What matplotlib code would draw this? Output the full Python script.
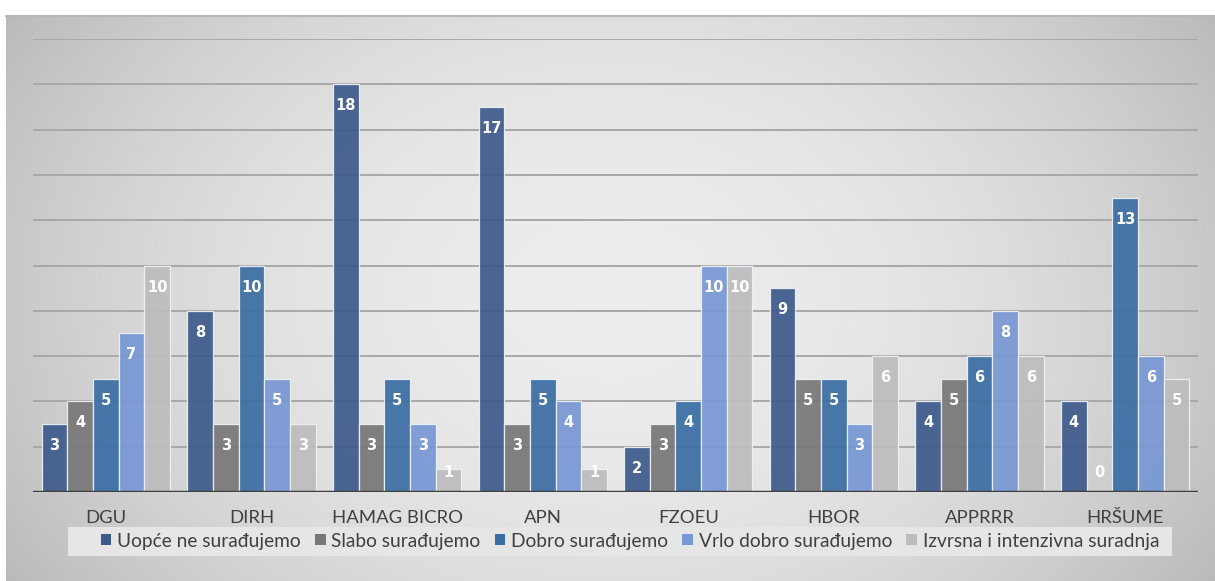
import numpy as np
import matplotlib
matplotlib.use("Agg")
import matplotlib.pyplot as plt
from matplotlib.patches import Rectangle

categories = ["DGU", "DIRH", "HAMAG BICRO", "APN", "FZOEU", "HBOR", "APPRRR", "HRŠUME"]
series_names = ["Uopće ne surađujemo", "Slabo surađujemo", "Dobro surađujemo",
                "Vrlo dobro surađujemo", "Izvrsna i intenzivna suradnja"]
uopce = [3, 8, 18, 17, 2, 9, 4, 4]
slabo = [4, 3, 3, 3, 3, 5, 5, 0]
dobro = [5, 10, 5, 5, 4, 5, 6, 13]
vrlo_dobro = [7, 5, 3, 4, 10, 3, 8, 6]
izvrsna = [10, 3, 1, 1, 10, 6, 6, 5]
series_values = [uopce, slabo, dobro, vrlo_dobro, izvrsna]
colors = ["#3f5b8c", "#787878", "#3b6ea3", "#7898d4", "#bdbdbd"]

W, H = 1215, 581
fig = plt.figure(figsize=(W / 100, H / 100), dpi=100)

# background gradient for chart area
bg = fig.add_axes([0, 0, 1, 1], zorder=-10)
bg.set_xlim(0, W)
bg.set_ylim(H, 0)
bg.axis("off")
x0, x1, y0, y1 = 6, 1215, 15, 581
nx, ny = 400, 200
xx, yy = np.meshgrid(np.linspace(-1, 1, nx), np.linspace(-1, 1, ny))
r2 = (xx ** 2) * 0.9 + (yy ** 2) * 0.35
val = 0.93 - 0.16 * r2
val = np.clip(val, 0, 1)
img = np.dstack([val, val, val])
bg.imshow(img, extent=(x0, x1, y1, y0), aspect="auto", interpolation="bilinear")
bg.plot([x0, x1], [y0 + 0.5, y0 + 0.5], color="#b8b8b8", lw=1.5)
# legend box
bg.add_patch(Rectangle((68, 527), 1104, 29, facecolor="#e6e6e6", edgecolor="none"))

ax = fig.add_axes([33 / W, 1 - 492 / H, (1198 - 33) / W, (492 - 39) / H])
ax.patch.set_alpha(0)
ax.set_ylim(0, 20)
ax.set_xlim(-0.5, len(categories) - 0.5)
for v in range(2, 21, 2):
    ax.axhline(v, color="#a8a8a8", lw=1.4, zorder=1)

x = np.arange(len(categories))
slot = 0.176
for i, (vals, col) in enumerate(zip(series_values, colors)):
    pos = x + (i - 2) * slot
    ax.bar(pos, vals, width=slot, color=col, edgecolor="#eef2f8", linewidth=0.9,
           alpha=0.93, zorder=2)
    for px, v in zip(pos, vals):
        ly = max(v - 0.95, 0.88)
        ax.text(px, ly, str(v), ha="center", va="center", color="white",
                fontsize=10.5, fontweight="bold", family="DejaVu Sans", zorder=4)

ax.axhline(0, color="#404040", lw=2.5, zorder=3)
for s in ax.spines.values():
    s.set_visible(False)
ax.set_yticks([])
ax.set_xticks(x)
ax.set_xticklabels(categories, fontsize=13.3, color="#404040", family="Lato")
ax.tick_params(axis="x", length=0, pad=13)

handles = [Rectangle((0, 0), 1, 1, facecolor=c) for c in colors]
leg = fig.legend(handles, series_names, loc="center", bbox_to_anchor=(630 / W, 1 - 541 / H),
                 ncol=5, frameon=False, prop={"family": "Lato", "size": 13.8},
                 handlelength=0.55, handleheight=0.55, handletextpad=0.3, columnspacing=0.75)
for t in leg.get_texts():
    t.set_color("#404040")

fig.savefig("out.png", dpi=100)
